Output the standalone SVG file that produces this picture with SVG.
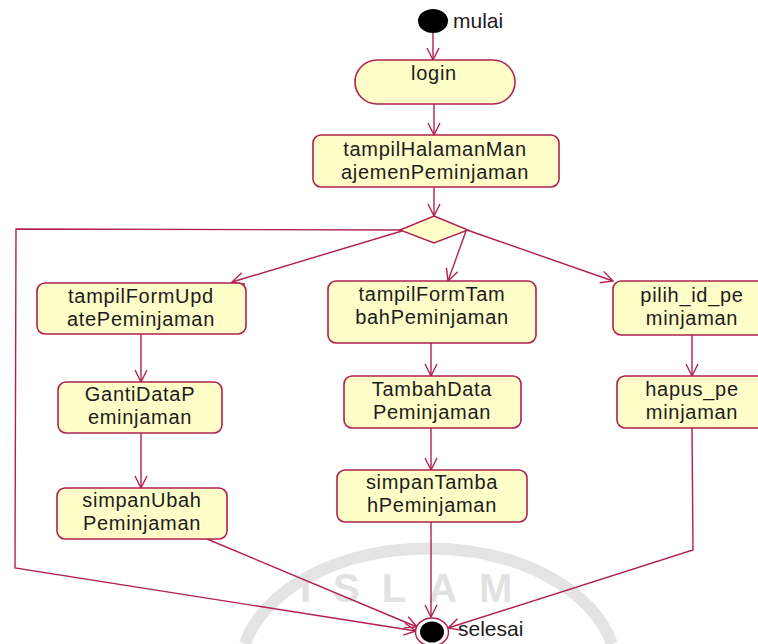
<svg xmlns="http://www.w3.org/2000/svg" width="758" height="644" viewBox="0 0 758 644">
<style>
.box{fill:#FFFDC8;stroke:#B02050;stroke-width:1.6}
.t{font-family:"Liberation Sans",Arial,sans-serif;font-size:20px;letter-spacing:0.7px;fill:#1c1c1c;text-anchor:middle}
.lbl{font-family:"Liberation Sans",Arial,sans-serif;font-size:21px;fill:#1c1c1c}
.c{fill:none;stroke:#B02050;stroke-width:1.4;marker-end:url(#arr)}
.wm{fill:#e2e2e2;font-family:"Liberation Sans",Arial,sans-serif;font-size:40px;font-weight:bold}
</style>
<defs>
<marker id="arr" viewBox="-13 -8 15 16" refX="0" refY="0" markerWidth="15" markerHeight="16" markerUnits="userSpaceOnUse" orient="auto">
<path d="M-12,-6 L0,0 L-12,6" fill="none" stroke="#B02050" stroke-width="1.4"/>
</marker>
</defs>
<rect width="758" height="644" fill="#ffffff"/>
<g id="watermark">
<path d="M245,644 A188,122 0 0 1 612,644" fill="none" stroke="#e4e4e4" stroke-width="12"/>
<text class="wm" x="300" y="602" letter-spacing="22">ISLAM</text>
</g>
<g id="connectors">
<path class="c" d="M433,33 L433,60"/>
<path class="c" d="M434,104 L434,135"/>
<path class="c" d="M434,187 L434,216"/>
<path class="c" d="M400,230 L16,229 L15,568 L416,631"/>
<path class="c" d="M402,231 L232,282"/>
<path class="c" d="M466,231 L448,281"/>
<path class="c" d="M467,230 L613,281"/>
<path class="c" d="M141,334 L141,382"/>
<path class="c" d="M141,433 L141,488"/>
<path class="c" d="M207,539 L417,627"/>
<path class="c" d="M431,343 L431,376"/>
<path class="c" d="M431,428 L431,470"/>
<path class="c" d="M431,522 L431,617"/>
<path class="c" d="M692,335 L692,376"/>
<path class="c" d="M692,428 L693,550 L448,628"/>
</g>
<g id="mulai">
<ellipse cx="433" cy="21" rx="15" ry="12" fill="#000"/>
<text class="lbl" x="453" y="28">mulai</text>
</g>
<g id="login">
<rect class="box" x="355" y="60" width="160" height="44" rx="22" ry="22"/>
<text class="t" x="434" y="80">login</text>
</g>
<g id="tampilHalamanManajemenPeminjaman">
<rect class="box" x="313" y="135" width="246" height="52" rx="8"/>
<text class="t" x="435" y="156">tampilHalamanMan</text>
<text class="t" x="435" y="179">ajemenPeminjaman</text>
</g>
<g id="decision">
<polygon points="434,216 468,230 434,243 400,230" fill="#FFFDC8" stroke="#B02050" stroke-width="1.4"/>
</g>
<g id="tampilFormUpdatePeminjaman">
<rect class="box" x="37" y="283" width="209" height="51" rx="8"/>
<text class="t" x="141" y="303">tampilFormUpd</text>
<text class="t" x="141" y="326">atePeminjaman</text>
</g>
<g id="GantiDataPeminjaman">
<rect class="box" x="58" y="382" width="164" height="51" rx="8"/>
<text class="t" x="140" y="401">GantiDataP</text>
<text class="t" x="140" y="424">eminjaman</text>
</g>
<g id="simpanUbahPeminjaman">
<rect class="box" x="57" y="488" width="170" height="51" rx="8"/>
<text class="t" x="142" y="507">simpanUbah</text>
<text class="t" x="142" y="530">Peminjaman</text>
</g>
<g id="tampilFormTambahPeminjaman">
<rect class="box" x="328" y="281" width="208" height="62" rx="8"/>
<text class="t" x="432" y="301">tampilFormTam</text>
<text class="t" x="432" y="324">bahPeminjaman</text>
</g>
<g id="TambahDataPeminjaman">
<rect class="box" x="344" y="376" width="177" height="52" rx="8"/>
<text class="t" x="432" y="396">TambahData</text>
<text class="t" x="432" y="419">Peminjaman</text>
</g>
<g id="simpanTambahPeminjaman">
<rect class="box" x="337" y="470" width="190" height="52" rx="8"/>
<text class="t" x="432" y="489">simpanTamba</text>
<text class="t" x="432" y="512">hPeminjaman</text>
</g>
<g id="pilih_id_peminjaman">
<rect class="box" x="613" y="281" width="160" height="54" rx="8"/>
<text class="t" x="692" y="302">pilih_id_pe</text>
<text class="t" x="692" y="325">minjaman</text>
</g>
<g id="hapus_peminjaman">
<rect class="box" x="617" y="376" width="156" height="52" rx="8"/>
<text class="t" x="692" y="396">hapus_pe</text>
<text class="t" x="692" y="419">minjaman</text>
</g>
<g id="selesai">
<ellipse cx="432" cy="632" rx="16.5" ry="14" fill="#fff" stroke="#B02050" stroke-width="1.4"/>
<ellipse cx="432" cy="632" rx="12" ry="10.5" fill="#000"/>
<text class="lbl" x="458" y="636">selesai</text>
</g>
</svg>
